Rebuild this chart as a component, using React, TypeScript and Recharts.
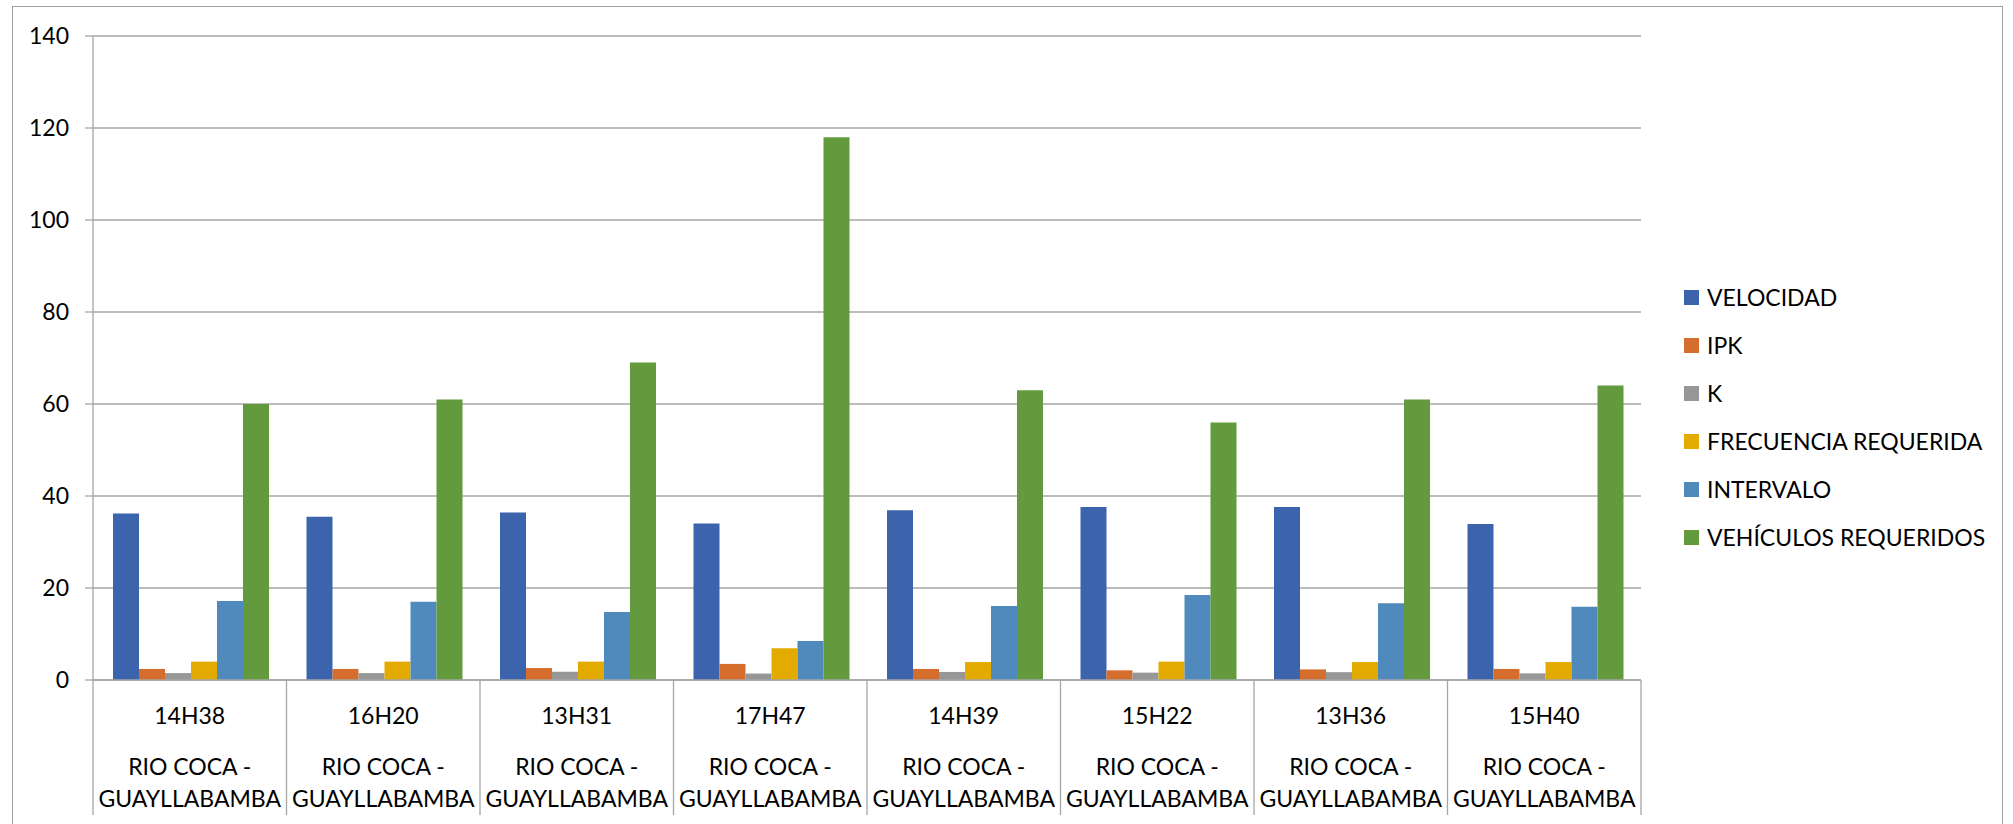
import { BarChart, Bar, XAxis, YAxis, CartesianGrid } from "recharts";

const times = ["14H38", "16H20", "13H31", "17H47", "14H39", "15H22", "13H36", "15H40"];
const routes = [
  "RIO COCA - GUAYLLABAMBA",
  "RIO COCA - GUAYLLABAMBA",
  "RIO COCA - GUAYLLABAMBA",
  "RIO COCA - GUAYLLABAMBA",
  "RIO COCA - GUAYLLABAMBA",
  "RIO COCA - GUAYLLABAMBA",
  "RIO COCA - GUAYLLABAMBA",
  "RIO COCA - GUAYLLABAMBA",
];

const velocidad = [36.2, 35.5, 36.4, 34.0, 36.9, 37.6, 37.6, 33.9];
const ipk = [2.4, 2.4, 2.6, 3.5, 2.4, 2.1, 2.3, 2.4];
const k = [1.5, 1.5, 1.8, 1.4, 1.75, 1.6, 1.7, 1.45];
const frecuencia = [4.0, 4.0, 4.0, 6.9, 3.9, 4.0, 3.9, 3.9];
const intervalo = [17.2, 17.0, 14.8, 8.5, 16.1, 18.5, 16.7, 15.9];
const vehiculos = [60, 61, 69, 118, 63, 56, 61, 64];

const yTicks = [0, 20, 40, 60, 80, 100, 120, 140];

const series = [
  { key: "velocidad", name: "VELOCIDAD", color: "#3c64ad" },
  { key: "ipk", name: "IPK", color: "#d56d2c" },
  { key: "k", name: "K", color: "#979797" },
  { key: "frecuencia", name: "FRECUENCIA REQUERIDA", color: "#e3aa00" },
  { key: "intervalo", name: "INTERVALO", color: "#508abd" },
  { key: "vehiculos", name: "VEHÍCULOS REQUERIDOS", color: "#639a3e" },
];

const data = times.map((t, i) => ({
  time: t,
  route: routes[i],
  velocidad: velocidad[i],
  ipk: ipk[i],
  k: k[i],
  frecuencia: frecuencia[i],
  intervalo: intervalo[i],
  vehiculos: vehiculos[i],
}));

const FONT = "Lato, 'Open Sans', sans-serif";
const FS = 23;
const GRID = "#a6a6a6";
const W = 2013;
const H = 824;
const M = { top: 36, right: 372, left: 0, bottom: 0 };
const Y_W = 93;
const X_H = 144;
const band = (W - M.right - Y_W) / times.length;

function CategoryTick(props: any) {
  const { x, y, payload, index } = props;
  const route: string = routes[index] || "";
  const parts = route.split(" - ");
  const left = x - band / 2;
  return (
    <g>
      <line x1={left} y1={y} x2={left} y2={y + 135} stroke={GRID} strokeWidth={1.3} />
      {index === times.length - 1 && (
        <line x1={left + band} y1={y} x2={left + band} y2={y + 135} stroke={GRID} strokeWidth={1.3} />
      )}
      <text x={x} y={y + 35} textAnchor="middle" dominantBaseline="central" fontFamily={FONT} fontSize={FS} fill="#000">
        {payload.value}
      </text>
      <text x={x} y={y + 86} textAnchor="middle" dominantBaseline="central" fontFamily={FONT} fontSize={FS} fill="#000">
        {parts[0] + " -"}
      </text>
      <text x={x} y={y + 118} textAnchor="middle" dominantBaseline="central" fontFamily={FONT} fontSize={FS} fill="#000">
        {parts[1]}
      </text>
    </g>
  );
}

function LegendBox() {
  return (
    <div style={{ position: "absolute", left: 1684, top: 273, fontFamily: FONT, fontSize: FS, color: "#000" }}>
      {series.map((s) => (
        <div key={s.key} style={{ height: 48, display: "flex", alignItems: "center", whiteSpace: "nowrap" }}>
          <span style={{ width: 15, height: 15, background: s.color, display: "inline-block", marginRight: 8 }} />
          <span>{s.name}</span>
        </div>
      ))}
    </div>
  );
}

export default function App() {
  return (
    <div style={{ position: "absolute", left: 0, top: 0, width: W, height: H, background: "#fff", overflow: "hidden" }}>
      <div
        style={{
          position: "absolute",
          left: 12,
          top: 6,
          width: 1991,
          height: 840,
          border: "1.5px solid #a0a0a0",
          boxSizing: "border-box",
        }}
      />
      <div style={{ position: "absolute", left: 0, top: 0 }}>
        <BarChart width={W} height={H} data={data} margin={M} barCategoryGap={20} barGap={0}>
          <CartesianGrid vertical={false} stroke={GRID} strokeWidth={1.3} />
          <XAxis
            dataKey="time"
            height={X_H}
            interval={0}
            tickLine={false}
            tickSize={0}
            tickMargin={0}
            axisLine={{ stroke: GRID, strokeWidth: 1.3 }}
            tick={<CategoryTick />}
          />
          <YAxis
            width={Y_W}
            domain={[0, 140]}
            ticks={yTicks}
            tickSize={8}
            tickMargin={16}
            axisLine={{ stroke: GRID, strokeWidth: 1.3 }}
            tickLine={{ stroke: GRID, strokeWidth: 1.3 }}
            tick={{ fontFamily: FONT, fontSize: FS, fill: "#000" }}
          />
          {series.map((s) => (
            <Bar key={s.key} dataKey={s.key} name={s.name} fill={s.color} isAnimationActive={false} />
          ))}
        </BarChart>
      </div>
      <LegendBox />
    </div>
  );
}
